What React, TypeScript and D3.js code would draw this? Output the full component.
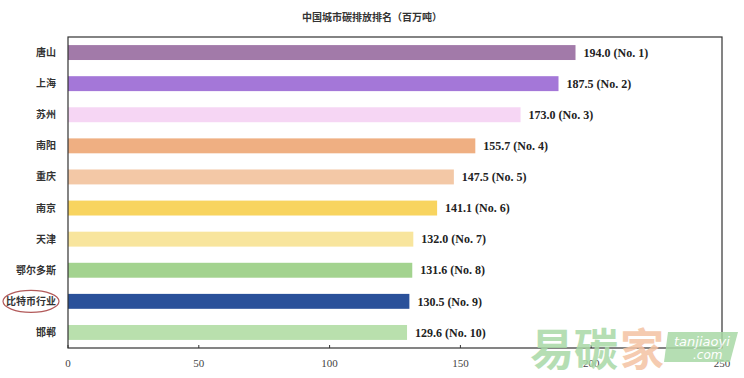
import React from "react";
import * as d3 from "d3";

const categories = ["唐山", "上海", "苏州", "南阳", "重庆", "南京", "天津", "鄂尔多斯", "比特币行业", "邯郸"];
const values = [194.0, 187.5, 173.0, 155.7, 147.5, 141.1, 132.0, 131.6, 130.5, 129.6];
const ranks = [1, 2, 3, 4, 5, 6, 7, 8, 9, 10];
const colors = ["#a27aa9", "#a477d8", "#f6d6f4", "#efaf82", "#f3c8a6", "#f8d45f", "#f8e59d", "#a3d38f", "#2a519a", "#b9e0ad"];
const xTicks = [0, 50, 100, 150, 200, 250];
const title = "中国城市碳排放排名（百万吨）";

const W = 744, H = 378;
const left = 68, right = 722, top = 37, bottom = 348;

export default function App() {
  const x = d3.scaleLinear().domain([0, 250]).range([left, right]);
  const y = d3.scaleBand<string>().domain(categories).range([top, bottom]).paddingInner(0.52).paddingOuter(0.26);
  const bw = y.bandwidth();
  const cjk = "'Noto Sans CJK SC', sans-serif";
  const serif = "'Liberation Serif', 'Times New Roman', serif";
  return (
    <svg width={W} height={H} style={{ position: "absolute", left: 0, top: 0, background: "#fff" }}>
      <rect x={0} y={0} width={W} height={H} fill="#fff" />
      <text x={372} y={21} textAnchor="middle" fontFamily={cjk} fontSize={10} fontWeight="bold" fill="#333">{title}</text>
      {categories.map((c, i) => (
        <g key={c}>
          <rect x={x(0)} y={y(c)!} width={x(values[i]) - x(0)} height={bw} fill={colors[i]} />
          <text x={x(values[i]) + 8} y={y(c)! + bw / 2} dy="0.35em" fontFamily={serif} fontWeight="bold" fontSize={12} fill="#222">
            {`${values[i].toFixed(1)} (No. ${ranks[i]})`}
          </text>
          <text x={56} y={y(c)! + bw / 2} dy="0.35em" textAnchor="end" fontFamily={cjk} fontWeight="bold" fontSize={10} fill="#333">{c}</text>
        </g>
      ))}
      <ellipse cx={31} cy={y("比特币行业")! + bw / 2} rx={28} ry={11} fill="none" stroke="#b25a5a" strokeWidth={1.2} />
      <rect x={left} y={top} width={right - left} height={bottom - top} fill="none" stroke="#333" strokeWidth={1.2} />
      {xTicks.map((t) => (
        <g key={t}>
          <line x1={x(t)} x2={x(t)} y1={bottom} y2={bottom - 3} stroke="#333" />
          <text x={x(t)} y={367} textAnchor="middle" fontFamily={serif} fontSize={11} fill="#444">{t}</text>
        </g>
      ))}
      <g opacity={0.85}>
        <text x={530} y={366} fontFamily={cjk} fontWeight="bold" fontSize={44} fill="#a9d9a6">易碳</text>
        <text x={620} y={366} fontFamily={cjk} fontWeight="bold" fontSize={44} fill="#f4c3a3">家</text>
        <path d="M668,332 L738,332 L730,362 L664,362 Z" fill="#a9d9a6" />
        <text x={674} y={346} fontFamily="'DejaVu Sans', sans-serif" fontStyle="italic" fontSize={13} fill="#fff">tanjiaoyi</text>
        <text x={693} y={359} fontFamily="'DejaVu Sans', sans-serif" fontStyle="italic" fontSize={12} fill="#fff">.com</text>
      </g>
    </svg>
  );
}
